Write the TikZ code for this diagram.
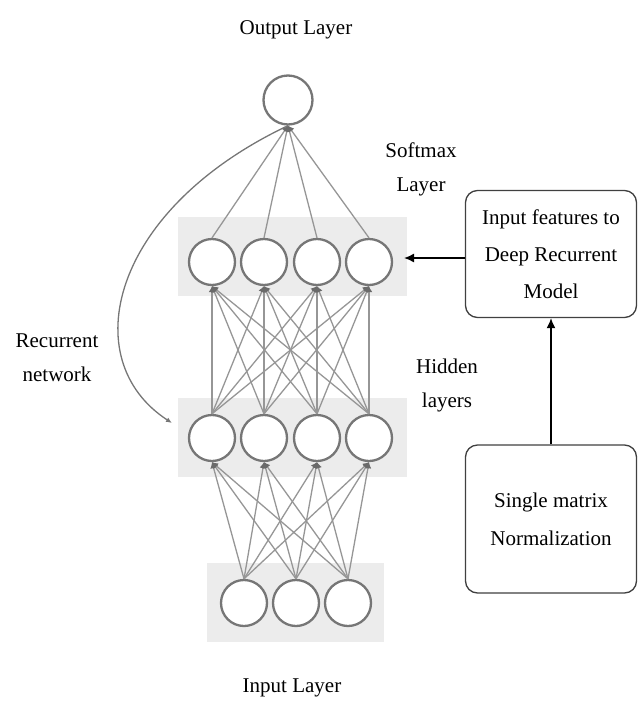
\documentclass[tikz,border=0pt]{standalone}
\usepackage{fontspec}
\setmainfont{Liberation Serif}
\usetikzlibrary{arrows.meta}
\definecolor{circ}{RGB}{118,118,118}
\definecolor{edge}{RGB}{150,150,150}
\definecolor{band}{RGB}{236,236,236}
\begin{document}
\begin{tikzpicture}[x=1pt,y=-1pt,
  neuron/.style={circle,draw=circ,line width=2.3pt,fill=white,minimum size=46pt,inner sep=0pt},
  conn/.style={draw=edge,line width=1.3pt,-{Latex[length=6pt,width=7pt,color=circ!90!black]}},
  bandbox/.style={fill=band,draw=none},
  lbl/.style={font=\fontsize{21}{34}\selectfont,align=center,text=black},
  rbox/.style={draw=black!75,line width=1.3pt,rounded corners=12pt,fill=white},
  blk/.style={draw=black,line width=1.5pt,-{Latex[length=10pt,width=9pt]}}]
\useasboundingbox (0,0) rectangle (638,702);
% bands
\fill[bandbox] (178,217) rectangle (407,296);
\fill[bandbox] (178,398) rectangle (407,477);
\fill[bandbox] (207,563) rectangle (384,642);
% nodes
\node[neuron,minimum size=49pt] (o) at (288,100) {};
\foreach \i/\x in {1/212,2/264,3/317,4/369}{
  \node[neuron] (s\i) at (\x,262) {};
  \node[neuron] (h\i) at (\x,438) {};
}
\foreach \i/\x in {1/244,2/296,3/348}{
  \node[neuron] (i\i) at (\x,603) {};
}
% connections
\foreach \i in {1,...,4}{ \draw[conn] (s\i.north) -- (o.south); }
\foreach \i in {1,...,4}{ \foreach \j in {1,...,4}{ \draw[conn] (h\i.north) -- (s\j.south); } }
\foreach \i in {1,...,3}{ \foreach \j in {1,...,4}{ \draw[conn] (i\i.north) -- (h\j.south); } }
% recurrent arrow
\coordinate (rc) at (172,423);
\draw[draw=circ,line width=1.3pt,-{Latex[length=6pt,width=5pt]}] (o.south) .. controls (110,210) and (75,360) .. (rc);
% labels
\node[lbl] (tout) at (296,30) {Output Layer};
\node[lbl] (tin) at (292,688) {Input Layer};
\node[lbl] (tsoft) at (421,169) {Softmax\\Layer};
\node[lbl] (thid) at (447,385) {Hidden\\layers};
\node[lbl] (trec) at (57,358) {Recurrent\\network};
% boxes
\node[rbox,lbl,minimum width=171pt,minimum height=127pt,inner sep=2pt,font=\fontsize{21}{37}\selectfont] (b1) at (551,254) {Input features to\\Deep Recurrent\\Model};
\node[rbox,lbl,minimum width=171pt,minimum height=148pt,inner sep=2pt,font=\fontsize{21}{38}\selectfont] (b2) at (551,519) {Single matrix\\Normalization};
\coordinate (sarr) at (404,258);
\draw[blk] (b1.west |- sarr) -- (sarr);
\draw[blk] (b2.north) -- (b1.south);
\end{tikzpicture}
\end{document}
